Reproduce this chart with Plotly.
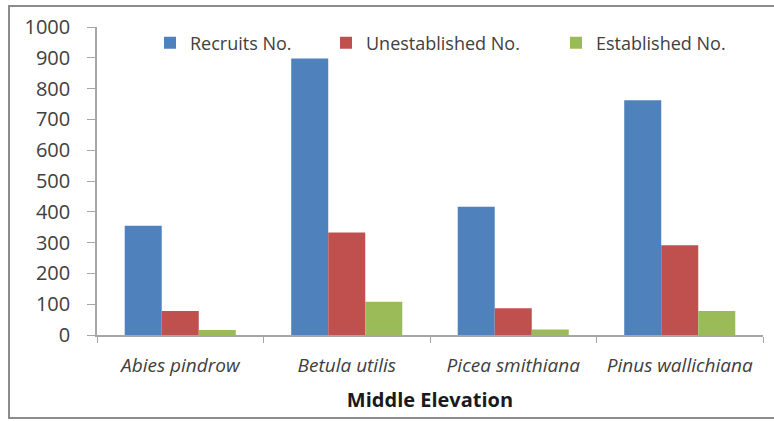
import plotly.graph_objects as go

species = ["Abies pindrow", "Betula utilis", "Picea smithiana", "Pinus wallichiana"]
recruits = [355, 898, 416, 762]
unestablished = [78, 333, 87, 291]
established = [16, 108, 18, 78]

series_names = ["Recruits No.", "Unestablished No.", "Established No."]
series_colors = ["#4F81BD", "#C0504D", "#9BBB59"]
series_values = [recruits, unestablished, established]
legend_ids = ["legend", "legend2", "legend3"]

FONT = "'Open Sans', Lato, sans-serif"
AXIS_GRAY = "#A6A6A6"
TEXT = "#404040"

# plot area geometry in pixels
W, H = 774, 421
ML, MR, MT, MB = 97, 11, 27, 86
PW, PH = W - ML - MR, H - MT - MB

def px_x(x):
    return (x - ML) / PW

def px_y(y):
    return (H - MB - y) / PH

fig = go.Figure()
for name, color, vals, lg in zip(series_names, series_colors, series_values, legend_ids):
    fig.add_trace(go.Bar(
        x=species, y=vals, name=name, legend=lg,
        marker=dict(color=color, line=dict(width=0)),
    ))

legend_style = dict(
    orientation="h", yanchor="middle", xanchor="left", y=px_y(43),
    font=dict(size=18, color=TEXT, family=FONT), bgcolor="rgba(0,0,0,0)",
)
legend_left = [150, 326, 556]

fig.update_layout(
    width=W, height=H,
    margin=dict(l=ML, r=MR, t=MT, b=MB, autoexpand=False),
    paper_bgcolor="white", plot_bgcolor="white",
    barmode="group", bargap=0.333, bargroupgap=0,
    font=dict(family=FONT, color=TEXT, size=16),
    showlegend=True,
    legend=dict(legend_style, x=px_x(legend_left[0])),
    legend2=dict(legend_style, x=px_x(legend_left[1])),
    legend3=dict(legend_style, x=px_x(legend_left[2])),
    xaxis=dict(
        type="category", tickson="boundaries", ticks="outside", ticklen=6,
        tickcolor=AXIS_GRAY, showline=True, linecolor=AXIS_GRAY, linewidth=1.5,
        showgrid=False, tickfont=dict(size=19, color=TEXT, style="italic"),
        ticklabelstandoff=12,
        title=dict(text="<b>Middle Elevation</b>", font=dict(size=20, color="#1a1a1a"), standoff=16),
    ),
    yaxis=dict(
        range=[0, 1000], dtick=100, ticks="outside", ticklen=8,
        tickcolor=AXIS_GRAY, showline=True, linecolor=AXIS_GRAY, linewidth=1.5,
        showgrid=False, zeroline=False, tickfont=dict(size=20, color=TEXT),
        ticklabelstandoff=13,
    ),
    shapes=[dict(
        type="rect", xref="paper", yref="paper",
        x0=px_x(9), x1=px_x(790), y0=px_y(418), y1=px_y(6),
        line=dict(color="#8C8C8C", width=2), fillcolor="rgba(0,0,0,0)", layer="below",
    )],
)

fig.write_html("out.html")
